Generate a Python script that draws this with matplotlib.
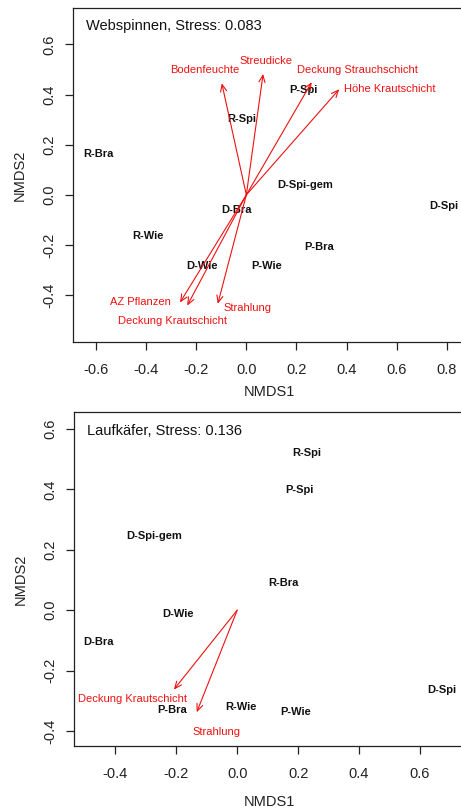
import matplotlib
matplotlib.use('Agg')
import matplotlib.pyplot as plt

plt.rcParams['font.family'] = ['Liberation Sans', 'DejaVu Sans']

# Webspinnen NMDS site scores
spi_sites = ['R-Bra', 'P-Spi', 'R-Spi', 'D-Spi-gem', 'D-Spi', 'D-Bra',
             'R-Wie', 'P-Bra', 'D-Wie', 'P-Wie']
spi_x = [-0.591, 0.227, -0.017, 0.234, 0.790, -0.041, -0.391, 0.291, -0.177, 0.081]
spi_y = [0.163, 0.416, 0.303, 0.040, -0.044, -0.062, -0.162, -0.206, -0.283, -0.283]

# Webspinnen env vectors (arrow tips and label positions)
spi_env = ['Bodenfeuchte', 'Streudicke', 'Deckung Strauchschicht', 'Höhe Krautschicht',
           'AZ Pflanzen', 'Deckung Krautschicht', 'Strahlung']
spi_env_x = [-0.098, 0.067, 0.261, 0.371, -0.265, -0.236, -0.114]
spi_env_y = [0.445, 0.482, 0.449, 0.421, -0.429, -0.441, -0.434]
spi_lab_x = [-0.165, 0.079, 0.443, 0.572, -0.424, -0.295, 0.005]
spi_lab_y = [0.498, 0.535, 0.498, 0.421, -0.425, -0.502, -0.451]

# Laufkaefer NMDS site scores
lauf_sites = ['R-Spi', 'P-Spi', 'D-Spi-gem', 'R-Bra', 'D-Wie', 'D-Bra',
              'P-Bra', 'R-Wie', 'P-Wie', 'D-Spi']
lauf_x = [0.230, 0.206, -0.273, 0.153, -0.194, -0.455, -0.215, 0.012, 0.192, 0.671]
lauf_y = [0.522, 0.397, 0.245, 0.090, -0.013, -0.107, -0.331, -0.320, -0.337, -0.265]

lauf_env = ['Deckung Krautschicht', 'Strahlung']
lauf_env_x = [-0.208, -0.133]
lauf_env_y = [-0.263, -0.338]
lauf_lab_x = [-0.343, -0.069]
lauf_lab_y = [-0.295, -0.403]

fig = plt.figure(figsize=(4.61, 8.09), dpi=100)


def nmds_panel(rect, xlim, ylim, xticks, yticks, title, sites, sx, sy,
               env, ex, ey, lx, ly, xlab_y, title_y):
    ax = fig.add_axes(rect)
    ax.set_xlim(*xlim)
    ax.set_ylim(*ylim)
    for s in ax.spines.values():
        s.set_linewidth(0.9)
        s.set_color('#222222')
    ax.set_xticks(xticks)
    ax.set_yticks(yticks)
    ax.set_xticklabels(['%.1f' % t for t in xticks])
    ax.set_yticklabels(['%.1f' % t for t in yticks], rotation=90, va='center')
    ax.tick_params(axis='both', direction='out', length=6, width=0.9,
                   labelsize=10.5, colors='#222222')
    ax.tick_params(axis='x', pad=9)
    ax.tick_params(axis='y', pad=6)
    ax.set_xlabel('NMDS1', fontsize=10.5, color='#222222')
    ax.set_ylabel('NMDS2', fontsize=10.5, color='#222222')
    ax.xaxis.label.set_va('center')
    ax.yaxis.label.set_va('center')
    ax.xaxis.set_label_coords(0.5, xlab_y)
    ax.yaxis.set_label_coords(-0.135, 0.5)

    for name, x, y in zip(sites, sx, sy):
        ax.text(x, y, name, ha='center', va='center', fontsize=8,
                fontweight='bold', color='#111111')
    for name, x, y, tx, ty in zip(env, ex, ey, lx, ly):
        ax.annotate('', xy=(x, y), xytext=(0, 0),
                    arrowprops=dict(arrowstyle='->,head_length=0.5,head_width=0.22',
                                    color='#ee1111', lw=0.8, mutation_scale=10,
                                    shrinkA=0, shrinkB=0))
        ax.text(tx, ty, name, ha='center', va='center', fontsize=8, color='#ee1111')
    ax.text(0.033, title_y, title, transform=ax.transAxes, ha='left', va='center',
            fontsize=10.5, color='#111111')
    return ax


nmds_panel([0.1584, 0.5773, 0.854, 0.4129], (-0.692, 0.88), (-0.586, 0.745),
           [-0.6, -0.4, -0.2, 0.0, 0.2, 0.4, 0.6, 0.8],
           [-0.4, -0.2, 0.0, 0.2, 0.4, 0.6],
           'Webspinnen, Stress: 0.083', spi_sites, spi_x, spi_y,
           spi_env, spi_env_x, spi_env_y, spi_lab_x, spi_lab_y, -0.15, 0.947)

nmds_panel([0.1599, 0.0782, 0.850, 0.4121], (-0.537, 0.75), (-0.449, 0.655),
           [-0.4, -0.2, 0.0, 0.2, 0.4, 0.6],
           [-0.4, -0.2, 0.0, 0.2, 0.4, 0.6],
           'Laufkäfer, Stress: 0.136', lauf_sites, lauf_x, lauf_y,
           lauf_env, lauf_env_x, lauf_env_y, lauf_lab_x, lauf_lab_y, -0.17, 0.945)

fig.savefig('out.png', dpi=100)
